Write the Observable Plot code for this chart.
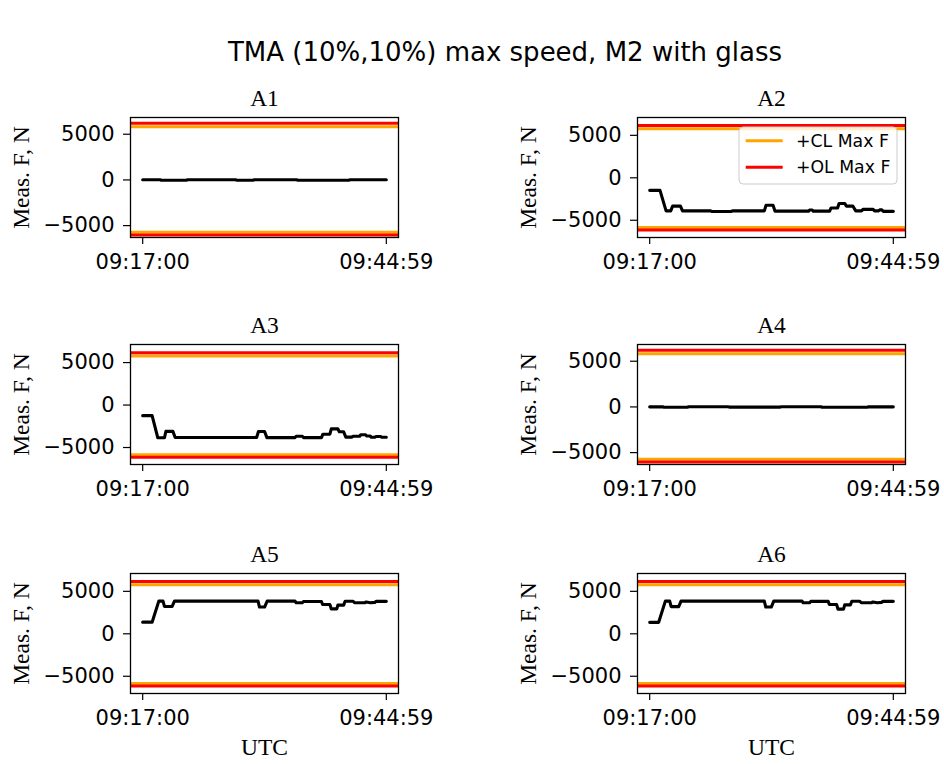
<!DOCTYPE html>
<html>
<head>
<meta charset="utf-8">
<script src="https://cdn.jsdelivr.net/npm/d3@7"></script>
<script src="https://cdn.jsdelivr.net/npm/@observablehq/plot@0.6"></script>
<style>
  html, body { margin: 0; padding: 0; background: #fff; }
  #fig { position: relative; width: 944px; height: 764px; overflow: hidden; background: #fff; }
  #fig svg { position: absolute; overflow: visible; }
</style>
</head>
<body>
<div id="fig"></div>
<script>
// ---- data: measured actuator forces (time in s after 09:17:00, force in N) ----
const startClock = "09:17:00";
const xTicks = [0, 1679];
const yTicks = [-5000, 0, 5000];

const a1Time  = [0, 120, 128, 300, 310, 640, 650, 760, 770, 1060, 1070, 1420, 1430, 1679];
const a1Force = [20, 20, -30, -30, 20, 20, -30, -30, 20, 20, -30, -30, 20, 20];

const a2Time  = [0, 71, 113, 145, 158, 212, 226, 420, 430, 560, 570, 790, 802, 850, 864, 1095, 1102, 1120, 1127, 1240, 1250, 1295, 1305, 1345, 1355, 1400, 1420, 1460, 1470, 1540, 1550, 1575, 1585, 1600, 1610, 1679];
const a2Force = [-1480, -1480, -3900, -3900, -3330, -3330, -3900, -3900, -3960, -3960, -3900, -3900, -3230, -3230, -3930, -3930, -3800, -3800, -3930, -3930, -3550, -3550, -3020, -3020, -3330, -3330, -3900, -3900, -3720, -3720, -3900, -3900, -3780, -3780, -3950, -3950];

const a3Time  = [0, 65, 104, 150, 160, 208, 224, 785, 798, 840, 856, 1050, 1058, 1100, 1108, 1232, 1242, 1290, 1300, 1345, 1355, 1385, 1400, 1440, 1450, 1495, 1503, 1535, 1545, 1568, 1575, 1600, 1608, 1640, 1648, 1679];
const a3Force = [-1250, -1250, -3850, -3850, -3100, -3100, -3820, -3820, -3120, -3120, -3830, -3830, -3680, -3680, -3830, -3830, -3430, -3430, -2800, -2800, -3150, -3150, -3780, -3780, -3680, -3680, -3500, -3500, -3650, -3650, -3800, -3800, -3700, -3700, -3800, -3800];

const a4Time  = [0, 90, 98, 260, 268, 540, 548, 900, 908, 1180, 1188, 1500, 1508, 1679];
const a4Force = [10, 10, -30, -30, 20, 20, -20, -20, 20, 20, -30, -30, 10, 10];

const a5Time  = [0, 65, 111, 140, 150, 203, 219, 795, 805, 840, 858, 1050, 1058, 1100, 1108, 1232, 1240, 1290, 1300, 1338, 1345, 1385, 1395, 1450, 1460, 1530, 1540, 1570, 1600, 1610, 1679];
const a5Force = [1370, 1370, 3850, 3850, 3220, 3220, 3850, 3850, 3150, 3150, 3850, 3850, 3650, 3650, 3800, 3800, 3450, 3450, 2930, 2930, 3380, 3380, 3830, 3830, 3650, 3650, 3750, 3650, 3700, 3820, 3820];

const a6Time  = [0, 62, 108, 138, 148, 200, 216, 790, 800, 838, 855, 1050, 1058, 1102, 1110, 1230, 1238, 1288, 1298, 1336, 1344, 1383, 1393, 1448, 1458, 1528, 1538, 1568, 1598, 1608, 1679];
const a6Force = [1350, 1350, 3850, 3850, 3200, 3200, 3850, 3850, 3150, 3150, 3850, 3850, 3650, 3650, 3820, 3820, 3450, 3450, 2900, 2900, 3400, 3400, 3830, 3830, 3650, 3650, 3750, 3650, 3700, 3820, 3820];

// limit lines: closed-loop and open-loop maximum force
const clLimitsA1 = [5830, -5720];
const olLimitsA1 = [6200, -6020];
const clLimits   = [5790, -5850];
const olLimits   = [6170, -6160];

const panelNames = ["A1", "A2", "A3", "A4", "A5", "A6"];
const legendLabels = ["+CL Max F", "+OL Max F"];
const clColor = "orange";
const olColor = "red";

// ---- layout ----
const ML = 125, MR = 50, MT = 45, MB = 50;
const FW = 268, FH = 120;
const colLeft = [129.5, 637];
const rowTop = [116.5, 344.3, 573];
const sans = "DejaVu Sans";
const serif = "Liberation Serif";
const serifSize = 23.5;

const t0 = d3.timeParse("%H:%M:%S")(startClock);
const clock = s => d3.timeFormat("%H:%M:%S")(new Date(t0.getTime() + s * 1000));

const panels = [
  {name: panelNames[0], time: a1Time, force: a1Force, y: [-6300, 6830], cl: clLimitsA1, ol: olLimitsA1},
  {name: panelNames[1], time: a2Time, force: a2Force, y: [-7030, 7100], cl: clLimits, ol: olLimits},
  {name: panelNames[2], time: a3Time, force: a3Force, y: [-7000, 7130], cl: clLimits, ol: olLimits},
  {name: panelNames[3], time: a4Time, force: a4Force, y: [-6300, 6830], cl: clLimitsA1, ol: olLimitsA1},
  {name: panelNames[4], time: a5Time, force: a5Force, y: [-7030, 7100], cl: clLimits, ol: olLimits},
  {name: panelNames[5], time: a6Time, force: a6Force, y: [-7030, 7100], cl: clLimits, ol: olLimits}
];

const fig = document.getElementById("fig");

panels.forEach((p, i) => {
  const col = i % 2, row = Math.floor(i / 2);
  const rows = p.time.map((t, k) => ({t, f: p.force[k]}));
  const marks = [
    Plot.ruleY(p.cl, {stroke: clColor, strokeWidth: 3}),
    Plot.ruleY(p.ol, {stroke: olColor, strokeWidth: 3}),
    Plot.line(rows, {x: "t", y: "f", stroke: "black", strokeWidth: 3.1, strokeLinejoin: "round"}),
    Plot.frame({stroke: "black", strokeWidth: 1.3}),
    Plot.axisX({ticks: xTicks, tickFormat: clock, tickSize: 7, tickPadding: 10, strokeWidth: 1.2, label: null, fontSize: 21}),
    Plot.axisY({ticks: yTicks, tickFormat: d3.format("d"), tickSize: 7, tickPadding: 9, strokeWidth: 1.2, label: null, fontSize: 21}),
    Plot.text([p.name], {frameAnchor: "top", dy: -11.5, lineAnchor: "bottom", fontFamily: serif, fontSize: serifSize, fill: "black"}),
    Plot.text(["Meas. F, N"], {frameAnchor: "left", dx: -109.5, rotate: -90, textAnchor: "middle", lineAnchor: "middle", fontFamily: serif, fontSize: serifSize, fill: "black"})
  ];
  if (row === 2) {
    marks.push(Plot.text(["UTC"], {frameAnchor: "bottom", dy: 61.5, lineAnchor: "bottom", fontFamily: serif, fontSize: serifSize, fill: "black"}));
  }
  const svg = Plot.plot({
    width: ML + FW + MR,
    height: MT + FH + MB,
    marginLeft: ML, marginRight: MR, marginTop: MT, marginBottom: MB,
    x: {domain: [-84, 1763]},
    y: {domain: p.y},
    style: {background: "transparent", fontFamily: sans, fontSize: "21px", color: "black", overflow: "visible"},
    marks
  });
  svg.style.left = (colLeft[col] - ML) + "px";
  svg.style.top = (rowTop[row] - MT) + "px";
  fig.appendChild(svg);
});

// ---- title and legend ----
const overlay = d3.select(fig).append("svg")
  .attr("width", 944).attr("height", 764)
  .style("left", "0px").style("top", "0px");

overlay.append("text")
  .attr("x", 505).attr("y", 60.5)
  .attr("text-anchor", "middle")
  .attr("font-family", sans).attr("font-size", 26)
  .attr("fill", "black")
  .text("TMA (10%,10%) max speed, M2 with glass");

const legend = overlay.append("g").attr("transform", "translate(739,127)");
legend.append("rect")
  .attr("width", 158).attr("height", 57).attr("rx", 4)
  .attr("fill", "white").attr("fill-opacity", 0.8)
  .attr("stroke", "#cccccc").attr("stroke-width", 1);
[clColor, olColor].forEach((c, k) => {
  const y = 13.7 + k * 26.6;
  legend.append("line")
    .attr("x1", 6.7).attr("x2", 43.7).attr("y1", y).attr("y2", y)
    .attr("stroke", c).attr("stroke-width", 3);
  legend.append("text")
    .attr("x", 57).attr("y", y).attr("dy", "0.35em")
    .attr("font-family", sans).attr("font-size", 17.3)
    .attr("fill", "black")
    .text(legendLabels[k]);
});
</script>
</body>
</html>
